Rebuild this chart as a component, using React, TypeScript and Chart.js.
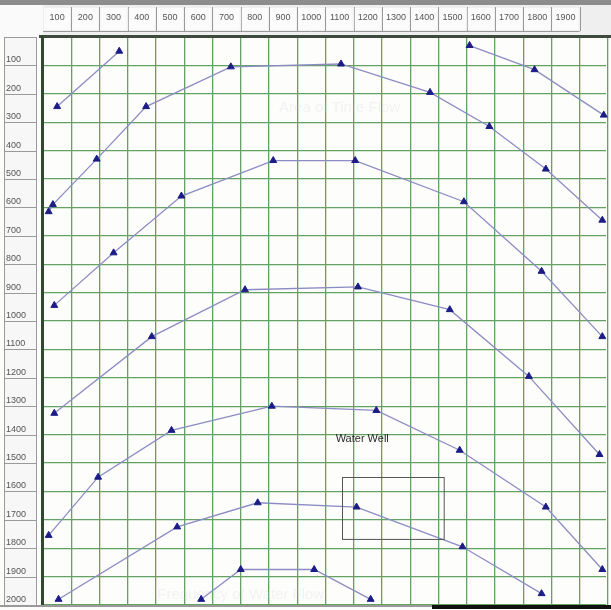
import React, { useEffect, useRef } from "react";
import { Chart, registerables } from "chart.js";

Chart.register(...registerables);

// ---- data (x = horizontal header units, y = vertical header units) ----
const arc1X = [50, 270];
const arc1Y = [245, 50];
const arc2X = [1510, 1740, 1985];
const arc2Y = [30, 115, 275];
const arc3X = [20, 35, 190, 365, 665, 1055, 1370, 1580, 1780, 1980];
const arc3Y = [615, 590, 430, 245, 105, 95, 195, 315, 465, 645];
const arc4X = [40, 250, 490, 815, 1105, 1490, 1765, 1980];
const arc4Y = [945, 760, 560, 435, 435, 580, 825, 1055];
const arc5X = [40, 385, 715, 1115, 1440, 1720, 1970];
const arc5Y = [1325, 1055, 890, 880, 960, 1195, 1470];
const arc6X = [20, 195, 455, 810, 1180, 1475, 1780, 1980];
const arc6Y = [1755, 1550, 1385, 1300, 1315, 1455, 1655, 1875];
const arc7X = [55, 475, 760, 1110, 1485, 1765];
const arc7Y = [1980, 1725, 1640, 1655, 1795, 1960];
const arc8X = [560, 700, 960, 1160];
const arc8Y = [1980, 1875, 1875, 1980];

const seriesX = [arc1X, arc2X, arc3X, arc4X, arc5X, arc6X, arc7X, arc8X];
const seriesY = [arc1Y, arc2Y, arc3Y, arc4Y, arc5Y, arc6Y, arc7Y, arc8Y];

const topHeaderLabels = [
  "100", "200", "300", "400", "500", "600", "700", "800", "900", "1000",
  "1100", "1200", "1300", "1400", "1500", "1600", "1700", "1800", "1900",
];
const leftHeaderLabels = [
  "100", "200", "300", "400", "500", "600", "700", "800", "900", "1000",
  "1100", "1200", "1300", "1400", "1500", "1600", "1700", "1800", "1900", "2000",
];
const gridValues = Array.from({ length: 21 }, (_, i) => i * 100);

const labelText = "Water Well";
const labelAt = { x: 1130, y: 1414 };
const boxFrom = { x: 1058, y: 1550 };
const boxTo = { x: 1418, y: 1768 };
const faintTexts = [
  { text: "Area of Time Flow", x: 1050, y: 250 },
  { text: "Frequency of Water Flow", x: 700, y: 1965 },
];

const decorPlugin = {
  id: "decor",
  beforeDatasetsDraw(chart: any) {
    const ctx = chart.ctx;
    const xs = chart.scales.x;
    const ys = chart.scales.y;
    ctx.save();
    ctx.fillStyle = "rgba(205,205,220,0.22)";
    ctx.font = "15px 'Liberation Sans', Arial, sans-serif";
    ctx.textAlign = "center";
    ctx.textBaseline = "middle";
    for (const f of faintTexts) {
      ctx.fillText(f.text, xs.getPixelForValue(f.x), ys.getPixelForValue(f.y));
    }
    ctx.restore();
  },
  afterDraw(chart: any) {
    const ctx = chart.ctx;
    const xs = chart.scales.x;
    const ys = chart.scales.y;
    const area = chart.chartArea;
    const W = chart.width;
    ctx.save();

    // annotation text and box
    ctx.fillStyle = "#2a2a2a";
    ctx.font = "11px 'Liberation Sans', Arial, sans-serif";
    ctx.textAlign = "center";
    ctx.textBaseline = "middle";
    ctx.fillText(labelText, xs.getPixelForValue(labelAt.x), ys.getPixelForValue(labelAt.y));
    ctx.strokeStyle = "#555";
    ctx.lineWidth = 1;
    const bx1 = xs.getPixelForValue(boxFrom.x);
    const by1 = ys.getPixelForValue(boxFrom.y);
    const bx2 = xs.getPixelForValue(boxTo.x);
    const by2 = ys.getPixelForValue(boxTo.y);
    ctx.strokeRect(Math.round(bx1) + 0.5, Math.round(by1) + 0.5, bx2 - bx1, by2 - by1);

    // top header
    ctx.fillStyle = "#8c8c8c";
    ctx.fillRect(0, 0, W, 5);
    ctx.fillStyle = "#efefef";
    ctx.fillRect(area.left, 5, W - area.left, area.top - 5);
    ctx.fillStyle = "#fafafa";
    ctx.fillRect(0, 5, area.left, area.top - 5);
    ctx.strokeStyle = "#9a9a9a";
    ctx.lineWidth = 1;
    ctx.font = "9px 'Liberation Sans', Arial, sans-serif";
    ctx.textAlign = "center";
    ctx.textBaseline = "middle";
    for (let i = 0; i < topHeaderLabels.length; i++) {
      const l = xs.getPixelForValue(i * 100);
      const r = xs.getPixelForValue((i + 1) * 100);
      ctx.fillStyle = "#fbfbfb";
      ctx.fillRect(l + 1, 8, r - l - 2, 22);
      ctx.beginPath();
      ctx.moveTo(Math.round(r) + 0.5, 7);
      ctx.lineTo(Math.round(r) + 0.5, 31);
      ctx.stroke();
      ctx.fillStyle = "#555";
      ctx.fillText(topHeaderLabels[i], (l + r) / 2, 18);
    }
    ctx.beginPath();
    ctx.moveTo(area.left, 31.5);
    ctx.lineTo(xs.getPixelForValue(topHeaderLabels.length * 100), 31.5);
    ctx.stroke();
    // dark line under header
    ctx.fillStyle = "#3d4a3d";
    ctx.fillRect(area.left - 4, area.top - 2, W - area.left + 4, 3);

    // left header column
    ctx.fillStyle = "#f7f7f7";
    ctx.fillRect(4, area.top, 33, area.bottom - area.top);
    ctx.strokeStyle = "#9a9a9a";
    ctx.strokeRect(4.5, area.top + 0.5, 32, area.bottom - area.top);
    ctx.textAlign = "left";
    ctx.textBaseline = "alphabetic";
    for (let i = 0; i < leftHeaderLabels.length; i++) {
      const b = ys.getPixelForValue((i + 1) * 100);
      ctx.strokeStyle = "#9a9a9a";
      ctx.beginPath();
      ctx.moveTo(4, Math.round(b) + 0.5);
      ctx.lineTo(37, Math.round(b) + 0.5);
      ctx.stroke();
      ctx.fillStyle = "#555";
      ctx.fillText(leftHeaderLabels[i], 6, b - 3);
    }
    // thick left border
    ctx.fillStyle = "#2f4a2f";
    ctx.fillRect(area.left - 2, area.top - 2, 3, area.bottom - area.top + 2);

    // bottom edge
    ctx.fillStyle = "#9a9a9a";
    ctx.fillRect(0, area.bottom, W, 2);
    ctx.fillStyle = "#111";
    ctx.fillRect(432, area.bottom, W - 432, 4);
    ctx.restore();
  },
};

export default function App() {
  const ref = useRef<HTMLCanvasElement | null>(null);
  useEffect(() => {
    if (!ref.current) return;
    const datasets = seriesX.map((xsArr, i) => ({
      data: xsArr.map((x, j) => ({ x, y: seriesY[i][j] })),
      borderColor: "#8c8cc4",
      borderWidth: 1.3,
      pointStyle: "triangle",
      pointRadius: 4,
      pointBackgroundColor: "#1c1c86",
      pointBorderColor: "#1c1c86",
      pointBorderWidth: 1,
      showLine: true,
      tension: 0,
      clip: 2,
    }));
    const chart = new Chart(ref.current, {
      type: "scatter",
      data: { datasets } as any,
      options: {
        animation: false,
        responsive: false,
        devicePixelRatio: 1,
        layout: { padding: { left: 43, top: 37, right: 0, bottom: 3 } },
        plugins: { legend: { display: false }, tooltip: { enabled: false } },
        scales: {
          x: {
            type: "linear",
            position: "top",
            min: 0,
            max: 1993,
            afterBuildTicks: (s: any) => {
              s.ticks = gridValues.map((v) => ({ value: v }));
            },
            ticks: { display: false },
            grid: { drawTicks: false, color: "#64a264", lineWidth: 1.3 },
            border: { display: false },
          },
          y: {
            type: "linear",
            reverse: true,
            min: 0,
            max: 2000,
            afterBuildTicks: (s: any) => {
              s.ticks = gridValues.map((v) => ({ value: v }));
            },
            ticks: { display: false },
            grid: { drawTicks: false, color: "#64a264", lineWidth: 1.3 },
            border: { display: false },
          },
        },
      } as any,
      plugins: [decorPlugin],
    });
    return () => chart.destroy();
  }, []);
  return (
    <div style={{ position: "fixed", left: 0, top: 0, width: 611, height: 610, background: "#fdfdfb" }}>
      <canvas ref={ref} width={611} height={610} style={{ display: "block" }} />
    </div>
  );
}
